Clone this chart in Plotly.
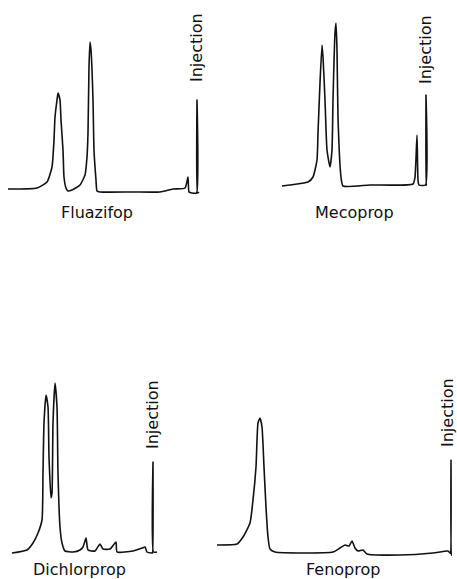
import plotly.graph_objects as go

# Chromatograms: time measured leftward from injection (arbitrary units), detector signal above baseline
fluazifop_t = [189, 160, 150, 145, 143, 142, 140, 139, 137, 136, 134, 133, 131, 129, 125, 117, 112, 110, 109, 108, 107, 106, 104, 103, 101, 100, 97, 64, 37, 24, 12, 9, 8, 5, 0.5, 0, -0.5, -2]
fluazifop_s = [3, 4, 10, 25, 52, 75, 92, 99, 92, 72, 42, 15, 4, 1, 2, 7, 17, 35, 59, 125, 150, 142, 92, 42, 12, 1, 0, 0, 0, 3, 4, 15, 0, -1, -1, 92, -1, 0]

mecoprop_t = [144, 129, 118, 113, 109, 108, 106, 104, 103, 101, 99, 96, 94, 93, 91, 90, 89, 88, 85, 83, 56, 13, 11, 9, 8, 7, 0.5, 0, -0.5, -1]
mecoprop_s = [0, 2, 4, 9, 26, 53, 103, 141, 129, 86, 36, 19, 36, 86, 153, 163, 136, 69, 9, 0, 1, 2, 9, 51, 6, 1, 1, 91, 1, 1]

dichlorprop_t = [141, 126, 120, 115, 111, 110, 109, 107, 105, 104, 102, 101, 100, 98, 96, 95, 93, 91, 88, 80, 73, 70, 67, 65, 58, 53, 50, 43, 37, 36, 20, 11, 8, 6, 1, 0.5, 0, -0.5, -4]
dichlorprop_s = [-1, 2, 9, 19, 32, 79, 129, 157, 145, 95, 54, 59, 129, 169, 145, 79, 25, 9, 1, 0, 2, 5, 14, 2, 1, 8, 3, 3, 10, 0, 1, 4, 5, 0, -1, -1, 90, 0, 0]

fenoprop_t = [234, 214, 208, 201, 198, 195, 193, 191, 189, 187, 185, 183, 181, 176, 118, 111, 106, 102, 99, 96, 93, 88, 84, 51, 18, 3, 1, 0.5, 0, -0.5, -1]
fenoprop_s = [8, 9, 16, 30, 53, 86, 130, 135, 126, 86, 46, 16, 4, 1, 1, 5, 8, 7, 12, 5, 2, 3, -1, -2, 0, 2, 0, 0, 93, -2, -2]

names = ["Fluazifop", "Mecoprop", "Dichlorprop", "Fenoprop"]
series_t = [fluazifop_t, mecoprop_t, dichlorprop_t, fenoprop_t]
series_s = [fluazifop_s, mecoprop_s, dichlorprop_s, fenoprop_s]
injection_label = "Injection"

W, H = 457, 579
# panel layout (pixels): box x0,x1,y0,y1 ; injection x ; baseline y
panels = [
    dict(box=(0, 215, 0, 230), inj=197, base=192, name_xy=(97, 213), inj_xy=(197, 48)),
    dict(box=(215, 457, 0, 230), inj=426, base=186, name_xy=(354, 213), inj_xy=(425, 50)),
    dict(box=(0, 190, 300, 579), inj=153, base=552, name_xy=(79, 569), inj_xy=(152, 415)),
    dict(box=(190, 457, 300, 579), inj=451, base=553, name_xy=(343, 569), inj_xy=(447, 413)),
]

fig = go.Figure()
layout = dict(
    width=W, height=H, margin=dict(l=0, r=0, t=0, b=0),
    paper_bgcolor="white", plot_bgcolor="rgba(0,0,0,0)",
    showlegend=False, annotations=[],
)
font = dict(family="DejaVu Sans", size=16, color="#111")

for i, (p, nm, t, s) in enumerate(zip(panels, names, series_t, series_s)):
    k = "" if i == 0 else str(i + 1)
    x0, x1, y0, y1 = p["box"]
    fig.add_trace(go.Scatter(x=t, y=s, mode="lines", name=nm,
                             line=dict(color="#111", width=1.6, shape="spline", smoothing=0.5),
                             xaxis="x" + k, yaxis="y" + k, hoverinfo="skip"))
    layout["xaxis" + k] = dict(domain=[x0 / W, x1 / W],
                               range=[p["inj"] - x0, p["inj"] - x1],
                               visible=False, anchor="y" + k)
    layout["yaxis" + k] = dict(domain=[1 - y1 / H, 1 - y0 / H],
                               range=[p["base"] - y1, p["base"] - y0],
                               visible=False, anchor="x" + k)
    nx, ny = p["name_xy"]
    layout["annotations"].append(dict(text=nm, x=nx / W, y=1 - ny / H, xref="paper", yref="paper",
                                      xanchor="center", yanchor="middle", showarrow=False, font=font))
    ix, iy = p["inj_xy"]
    layout["annotations"].append(dict(text=injection_label, x=ix / W, y=1 - iy / H, xref="paper", yref="paper",
                                      xanchor="center", yanchor="middle", textangle=-90,
                                      showarrow=False, font=font))

fig.update_layout(**layout)
fig.write_html("out.html")
